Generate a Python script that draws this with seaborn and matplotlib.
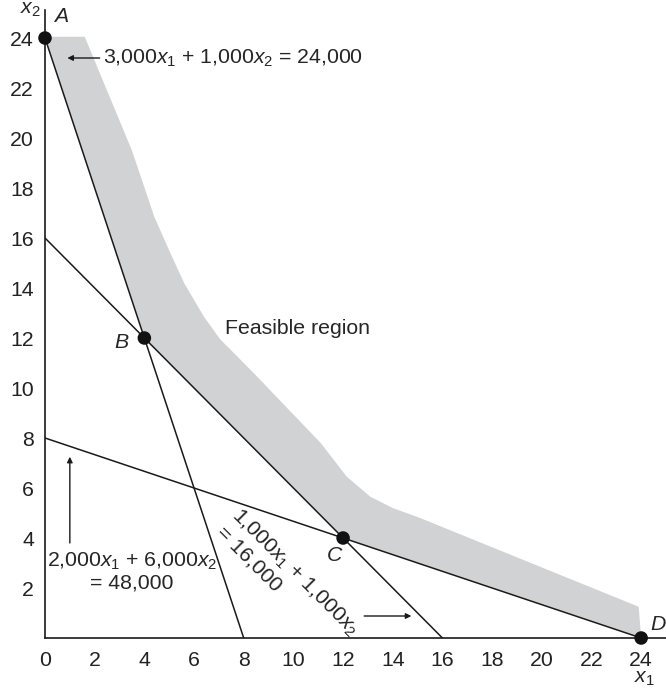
import matplotlib
matplotlib.use("Agg")
import matplotlib.pyplot as plt
import numpy as np
import pandas as pd
import seaborn as sns

# Constraint lines, each given by its two axis intercepts
line_names = ["3000x1+1000x2=24000", "1000x1+1000x2=16000", "2000x1+6000x2=48000"]
line_x = [[0, 8], [0, 16], [0, 24]]
line_y = [[24, 0], [16, 0], [8, 0]]

# Corner points of the feasible region
corner_labels = ["A", "B", "C", "D"]
corner_x = [0, 4, 12, 24]
corner_y = [24, 12, 4, 0]

# Outer edge of the shaded band (from D back up to A)
band_outer_x = [23.9, 15.1, 14.0, 13.1, 12.15, 11.1, 9.7, 8.4, 7.05, 6.4, 5.6,
                5.0, 4.4, 3.5, 1.6, 0.2]
band_outer_y = [1.25, 4.8, 5.2, 5.65, 6.45, 7.8, 9.25, 10.6, 11.95, 12.85, 14.2,
                15.5, 16.85, 19.5, 24.05, 24.05]

x_ticks = list(range(0, 25, 2))
y_ticks = list(range(2, 25, 2))

sns.set_style("white")
plt.rcParams["font.family"] = ["Liberation Sans", "DejaVu Sans"]
plt.rcParams["mathtext.fontset"] = "custom"
plt.rcParams["mathtext.rm"] = "Liberation Sans"
plt.rcParams["mathtext.it"] = "Liberation Sans:italic"

fig = plt.figure(figsize=(6.66, 6.89), dpi=100)
ax = fig.add_axes([45 / 666, 51 / 689, 621 / 666, 628 / 689])

# Shaded band along the boundary A-B-C-D
poly_x = corner_x + band_outer_x
poly_y = corner_y + band_outer_y
ax.fill(poly_x, poly_y, color="#d1d2d4", lw=0, zorder=1)

lines_df = pd.DataFrame({
    "x1": sum(line_x, []),
    "x2": sum(line_y, []),
    "constraint": [n for n in line_names for _ in range(2)],
})
sns.lineplot(data=lines_df, x="x1", y="x2", units="constraint", estimator=None,
             color="#1a1a1a", lw=1.1, ax=ax, zorder=2, sort=False)

pts_df = pd.DataFrame({"x1": corner_x, "x2": corner_y, "label": corner_labels})
sns.scatterplot(data=pts_df, x="x1", y="x2", color="#111111", s=95,
                edgecolor="none", ax=ax, zorder=4, clip_on=False)

fs = 15.3

ax.set_xlim(0, 25.0)
ax.set_ylim(0, 25.12)
ax.set_xticks(x_ticks)
ax.set_yticks(y_ticks)
ax.tick_params(axis="both", length=0, labelsize=fs, colors="#222222")
ax.tick_params(axis="x", pad=9)
ax.tick_params(axis="y", pad=8)
ax.set_xlabel("")
ax.set_ylabel("")
for side in ["top", "right"]:
    ax.spines[side].set_visible(False)
for side in ["left", "bottom"]:
    ax.spines[side].set_color("#1a1a1a")
    ax.spines[side].set_linewidth(1.2)

# Axis names
ax.text(-0.15, 25.15, r"$x_2$", fontsize=fs, ha="right", va="center", clip_on=False)
ax.text(24.15, -1.6, r"$x_1$", fontsize=fs, ha="center", va="center", clip_on=False)

# Corner labels
ax.text(0.35, 24.85, "A", fontsize=fs, style="italic", ha="left", va="center")
ax.text(3.35, 11.8, "B", fontsize=fs, style="italic", ha="right", va="center")
ax.text(11.65, 3.3, "C", fontsize=fs, style="italic", ha="center", va="center")
ax.text(24.35, 0.52, "D", fontsize=fs, style="italic", ha="left", va="center", clip_on=False)

# Constraint labels
arrow_style = dict(arrowstyle="-|>", color="#1a1a1a", lw=1.0,
                   mutation_scale=8, shrinkA=0, shrinkB=0)
ax.annotate("", xy=(0.9, 23.2), xytext=(2.2, 23.2), arrowprops=arrow_style)
ax.text(2.35, 23.2, r"3,000$x_1$ + 1,000$x_2$ = 24,000", fontsize=fs,
        ha="left", va="center")

ax.text(10.15, 12.4, "Feasible region", fontsize=fs, ha="center", va="center")

ax.annotate("", xy=(1.0, 7.25), xytext=(1.0, 3.8), arrowprops=arrow_style)
ax.text(3.5, 2.65, "2,000$x_1$ + 6,000$x_2$\n= 48,000", fontsize=fs,
        ha="center", va="center", linespacing=1.1)

ax.text(10.05, 2.62, r"1,000$x_1$ + 1,000$x_2$", fontsize=fs, rotation=-45,
        rotation_mode="anchor", ha="center", va="center")
ax.text(8.2, 3.15, "= 16,000", fontsize=fs, rotation=-45,
        rotation_mode="anchor", ha="center", va="center")
ax.annotate("", xy=(14.75, 0.88), xytext=(12.85, 0.88), arrowprops=arrow_style)

fig.savefig("out.png", dpi=100)
